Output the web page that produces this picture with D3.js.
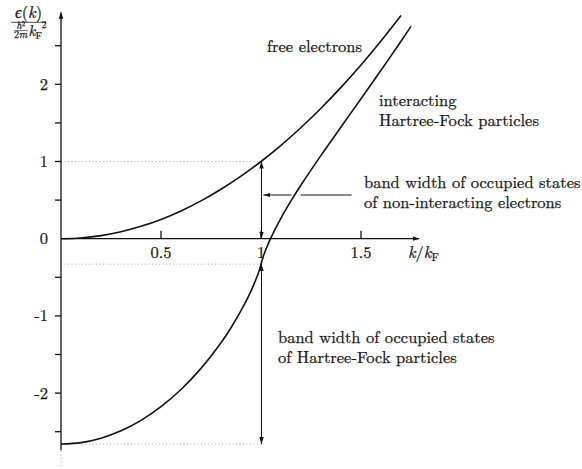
<!DOCTYPE html>
<html><head><meta charset="utf-8">
<script src="https://cdn.jsdelivr.net/npm/d3@7"></script>
</head><body style="margin:0;background:#fff">
<svg id="c" width="582" height="469"></svg>
<script>
// ---- data ----
const freeK = [0,0.1,0.2,0.3,0.4,0.5,0.6,0.7,0.8,0.9,1.0,1.1,1.2,1.3,1.4,1.5,1.6,1.7];
const freeE = [0,0.01,0.04,0.09,0.16,0.25,0.36,0.49,0.64,0.81,1.0,1.21,1.44,1.69,1.96,2.25,2.56,2.89];
const hfK = [0,0.1,0.2,0.3,0.4,0.5,0.6,0.7,0.8,0.85,0.9,0.95,0.98,0.99,1.0,1.01,1.02,1.05,1.1,1.15,1.2,1.3,1.4,1.5,1.6,1.7,1.75];
const hfE = [-2.66,-2.641,-2.584,-2.489,-2.353,-2.176,-1.953,-1.680,-1.348,-1.153,-0.933,-0.678,-0.493,-0.421,-0.33,-0.240,-0.168,0.014,0.267,0.489,0.695,1.079,1.447,1.812,2.181,2.558,2.751];
const yTicks = [-2.5,-2,-1.5,-1,-0.5,0.5,1,1.5,2,2.5];
const yLabels = [-2,-1,0,1,2];
const xTicks = [0.5,1,1.5];
const xLabels = ["0.5","1","1.5"];
const freeBand = [0,1];          // free-electron band: 0 .. 1
const hfBand = [-0.33,-2.66];    // HF band: eps(kF) .. eps(0)
const kFermi = 1;

const FONT = '"Latin Modern Roman","Liberation Serif",serif';
const svg = d3.select("#c");
const x = d3.scaleLinear().domain([0,2]).range([61,461]);
const y = d3.scaleLinear().domain([-3,3]).range([470.3,7.1]);

function txt(sel){
  return sel.style("font-family",FONT).style("fill","#151515")
    .style("stroke","#151515").style("stroke-width","0.25px");
}

const defs = svg.append("defs");
defs.append("marker").attr("id","ah").attr("viewBox","0 0 10 10").attr("refX",10).attr("refY",5)
    .attr("markerWidth",7).attr("markerHeight",7).attr("markerUnits","userSpaceOnUse").attr("orient","auto-start-reverse")
    .append("path").attr("d","M0,1.8 L10,5 L0,8.2 Z").attr("fill","#111");
defs.append("marker").attr("id","ax").attr("viewBox","0 0 10 10").attr("refX",9).attr("refY",5)
    .attr("markerWidth",7).attr("markerHeight",7).attr("markerUnits","userSpaceOnUse").attr("orient","auto")
    .append("path").attr("d","M0,1.8 L10,5 L0,8.2 Z").attr("fill","#111");

// dotted guide lines
[freeBand[1], hfBand[0], hfBand[1]].forEach(v=>{
  svg.append("line").attr("x1",x(0)).attr("x2",x(kFermi)).attr("y1",y(v)).attr("y2",y(v))
    .attr("stroke","#aaa").attr("stroke-width",1).attr("stroke-dasharray","1,2.5");
});
svg.append("line").attr("x1",x(0)).attr("x2",x(0)).attr("y1",y(-2.75)).attr("y2",y(-2.96))
  .attr("stroke","#aaa").attr("stroke-width",1).attr("stroke-dasharray","1,2.5");

// axes
svg.append("line").attr("x1",x(0)).attr("x2",x(0)).attr("y1",y(-2.74)).attr("y2",y(2.93))
  .attr("stroke","#111").attr("stroke-width",1.3).attr("marker-end","url(#ax)");
svg.append("line").attr("x1",x(0)).attr("x2",x(1.79)).attr("y1",y(0)).attr("y2",y(0))
  .attr("stroke","#111").attr("stroke-width",1.3).attr("marker-end","url(#ax)");

svg.selectAll(".yt").data(yTicks).enter().append("line")
  .attr("x1",x(0)-6).attr("x2",x(0)).attr("y1",d=>y(d)).attr("y2",d=>y(d))
  .attr("stroke","#111").attr("stroke-width",1.3);
svg.selectAll(".xt").data(xTicks).enter().append("line")
  .attr("x1",d=>x(d)).attr("x2",d=>x(d)).attr("y1",y(0)).attr("y2",y(0)-8)
  .attr("stroke","#111").attr("stroke-width",1.3);

txt(svg.selectAll(".yl").data(yLabels).enter().append("text")
  .attr("x",48).attr("y",d=>y(d)).attr("dy","0.33em").attr("text-anchor","end")
  .attr("font-size",16.5).text(d=>String(d)));
txt(svg.selectAll(".xl").data(xTicks).enter().append("text")
  .attr("x",d=>x(d)).attr("y",y(0)+19).attr("text-anchor","middle")
  .attr("font-size",16.5).text((d,i)=>xLabels[i]));

// x-axis label k/k_F
const xl = txt(svg.append("text").attr("x",408).attr("y",y(0)+19).attr("font-size",16.5));
xl.append("tspan").attr("font-style","italic").text("k");
xl.append("tspan").text("/");
xl.append("tspan").attr("font-style","italic").text("k");
xl.append("tspan").attr("font-size",11.5).attr("dy",3.5).text("F");

// y-axis label: eps(k) / (hbar^2/2m k_F^2) -- one text element, absolute tspans
const yl = txt(svg.append("text").attr("font-size",16.5));
yl.append("tspan").attr("x",15).attr("y",17.5).attr("font-style","italic").text("ϵ");
yl.append("tspan").text("(");
yl.append("tspan").attr("font-style","italic").text("k");
yl.append("tspan").text(")");
yl.append("tspan").attr("x",16.5).attr("y",29).attr("font-size",10).attr("font-style","italic").text("ħ");
yl.append("tspan").attr("font-size",7).attr("dy",-3.5).text("2");
yl.append("tspan").attr("x",14).attr("y",37.5).attr("font-size",10).text("2");
yl.append("tspan").attr("font-size",10).attr("font-style","italic").text("m");
yl.append("tspan").attr("x",28.5).attr("y",35.5).attr("font-size",15).attr("font-style","italic").text("k");
yl.append("tspan").attr("font-size",10).attr("dy",3).text("F");
yl.append("tspan").attr("x",41.5).attr("y",28).attr("font-size",10).text("2");
svg.append("line").attr("x1",11).attr("x2",46).attr("y1",22.3).attr("y2",22.3).attr("stroke","#222").attr("stroke-width",0.8);
svg.append("line").attr("x1",14).attr("x2",28).attr("y1",30.5).attr("y2",30.5).attr("stroke","#222").attr("stroke-width",0.6);

// curves
const line = d3.line().x(d=>x(d[0])).y(d=>y(d[1])).curve(d3.curveCatmullRom.alpha(0.5));
svg.append("path").datum(freeK.map((k,i)=>[k,freeE[i]])).attr("d",line)
  .attr("fill","none").attr("stroke","#111").attr("stroke-width",1.6);
svg.append("path").datum(hfK.map((k,i)=>[k,hfE[i]])).attr("d",line)
  .attr("fill","none").attr("stroke","#111").attr("stroke-width",1.6);

// band-width arrows
const ax = x(kFermi)+0.5;
svg.append("line").attr("x1",ax).attr("x2",ax).attr("y1",y(freeBand[0])).attr("y2",y(freeBand[1]))
  .attr("stroke","#111").attr("stroke-width",1).attr("marker-start","url(#ah)").attr("marker-end","url(#ah)");
svg.append("line").attr("x1",ax).attr("x2",ax).attr("y1",y(hfBand[0])).attr("y2",y(hfBand[1]))
  .attr("stroke","#111").attr("stroke-width",1).attr("marker-start","url(#ah)").attr("marker-end","url(#ah)");
// horizontal pointer arrow (broken where it crosses the HF curve)
const ya = y(0.566);
svg.append("line").attr("x1",x(1.453)).attr("x2",x(1.198)).attr("y1",ya).attr("y2",ya)
  .attr("stroke","#111").attr("stroke-width",1);
svg.append("line").attr("x1",x(1.152)).attr("x2",x(1.012)).attr("y1",ya).attr("y2",ya)
  .attr("stroke","#111").attr("stroke-width",1).attr("marker-end","url(#ah)");

// annotations
function label(lines, px, py){
  const t = txt(svg.append("text").attr("font-size",16.5));
  lines.forEach((s,i)=>t.append("tspan").attr("x",px).attr("y",py+i*20).text(s));
}
label(["free electrons"],267,52);
label(["interacting","Hartree-Fock particles"],379,106);
label(["band width of occupied states","of non-interacting electrons"],364,188);
label(["band width of occupied states","of Hartree-Fock particles"],278,343);
</script>
</body></html>
